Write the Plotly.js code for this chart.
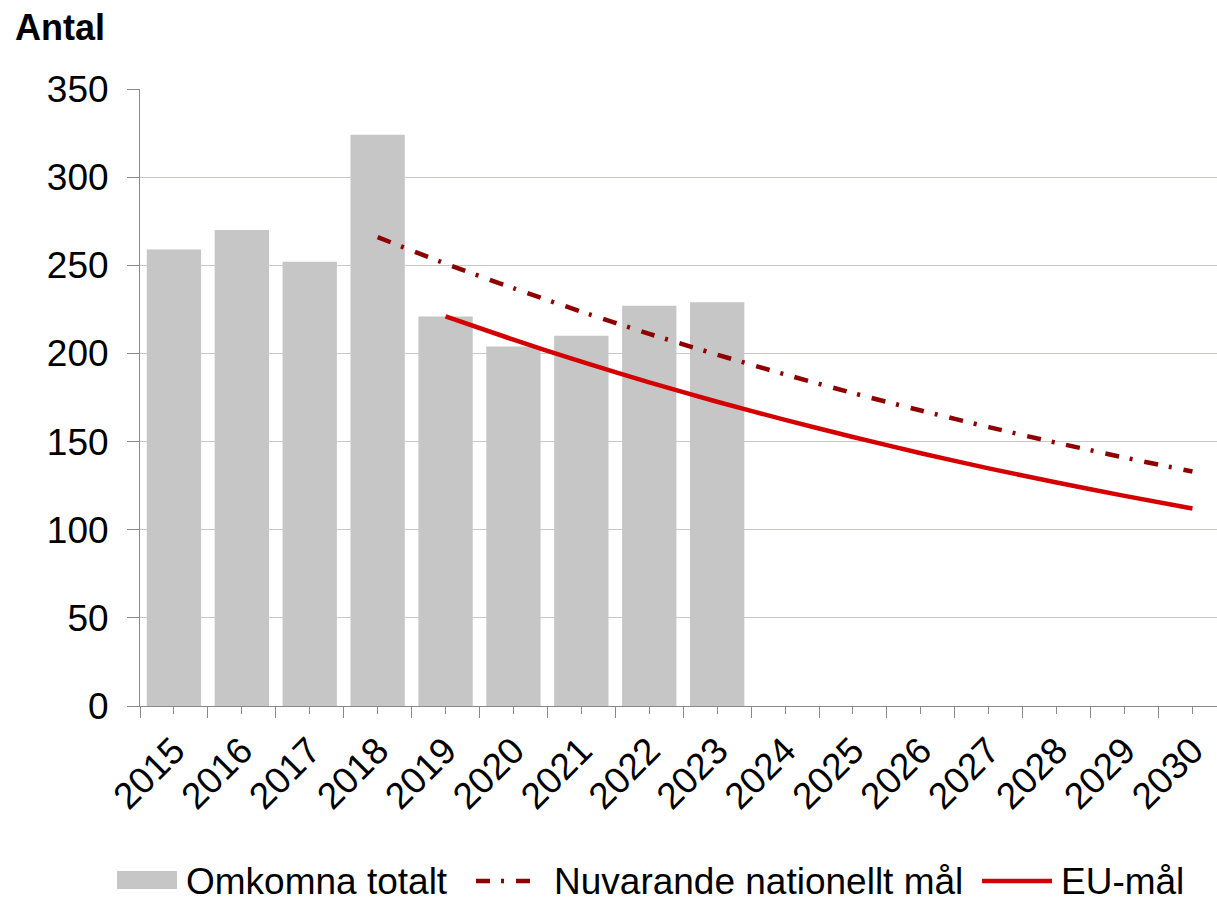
<!DOCTYPE html>
<html>
<head>
<meta charset="utf-8">
<script src="https://cdn.plot.ly/plotly-3.0.1.min.js"></script>
<style>
  html, body { margin: 0; padding: 0; background: #ffffff; }
  #chart { width: 1217px; height: 900px; }
</style>
</head>
<body>
<div id="chart"></div>
<script>
// ---- Data ----
const years = [2015, 2016, 2017, 2018, 2019, 2020, 2021, 2022, 2023, 2024, 2025, 2026, 2027, 2028, 2029, 2030];
const barYears = [2015, 2016, 2017, 2018, 2019, 2020, 2021, 2022, 2023];
const omkomnaTotalt = [259, 270, 252, 324, 221, 204, 210, 227, 229];
const nationalYears = [2018, 2019, 2020, 2021, 2022, 2023, 2024, 2025, 2026, 2027, 2028, 2029, 2030];
const nationelltMal = [266, 250.9, 237.0, 223.7, 211.1, 199.3, 188.1, 177.5, 167.6, 158.2, 149.3, 140.9, 133];
const euYears = [2019, 2020, 2021, 2022, 2023, 2024, 2025, 2026, 2027, 2028, 2029, 2030];
const euMal = [221, 207.8, 195.3, 183.6, 172.6, 162.3, 152.6, 143.4, 134.8, 126.8, 119.2, 112];
const yTicks = [0, 50, 100, 150, 200, 250, 300, 350];
const seriesNames = ["Omkomna totalt", "Nuvarande nationellt mål", "EU-mål"];
const yTitle = "Antal";

// ---- Style ----
const FONT = '"Liberation Sans", Arial, sans-serif';
const BAR_COLOR = '#c6c6c6';
const NAT_COLOR = '#8e0000';
const EU_COLOR = '#d40000';
const DASHDOT = '14px,11px,3px,12px';

const W = 1217, H = 900;
const L = 140, T = 89, B = 194, R = 0;
const plotW = W - L - R, plotH = H - T - B;
// pixel -> paper helpers (for the legend drawn below the plot)
const px = x => (x - L) / plotW;
const py = y => (H - B - y) / plotH;

const traces = [
  {
    type: 'bar', x: barYears, y: omkomnaTotalt, name: seriesNames[0],
    marker: { color: BAR_COLOR }, showlegend: false, hoverinfo: 'x+y'
  },
  {
    type: 'scatter', mode: 'lines', x: nationalYears, y: nationelltMal, name: seriesNames[1],
    line: { color: NAT_COLOR, width: 4.5, dash: DASHDOT, shape: 'spline', smoothing: 0.6 }, showlegend: false
  },
  {
    type: 'scatter', mode: 'lines', x: euYears, y: euMal, name: seriesNames[2],
    line: { color: EU_COLOR, width: 4.5, shape: 'spline', smoothing: 0.6 }, showlegend: false
  }
];

const legY = 881;
const legFont = { family: FONT, size: 37, color: '#000000' };
function legText(x, t) {
  return { xref: 'paper', yref: 'paper', x: px(x), y: py(legY), xanchor: 'left', yanchor: 'middle',
    height: 34, valign: 'middle', borderpad: 0,
    text: t, showarrow: false, font: legFont };
}

const layout = {
  width: W, height: H,
  margin: { l: L, r: R, t: T, b: B, pad: 0 },
  paper_bgcolor: '#ffffff', plot_bgcolor: '#ffffff',
  font: { family: FONT, size: 37, color: '#000000' },
  bargap: 0.2,
  showlegend: false,
  title: {
    text: '<b>' + yTitle + '</b>',
    xref: 'container', yref: 'container',
    x: 15 / W, xanchor: 'left', y: 1 - 27 / H, yanchor: 'middle',
    font: { family: FONT, size: 36, color: '#000000' }
  },
  xaxis: {
    type: 'linear',
    range: [years[0] - 0.5, years[0] - 0.5 + plotW / 67.9],
    tickmode: 'array', tickvals: years, ticktext: years.map(String),
    tickangle: -45,
    ticks: 'outside', ticklen: 7, tickwidth: 1, tickcolor: '#898989',
    minor: { tick0: years[0] - 0.5, dtick: 1, ticks: 'outside', ticklen: 11, tickwidth: 1, tickcolor: '#898989', showgrid: false },
    showline: true, linecolor: '#898989', linewidth: 1,
    showgrid: false, zeroline: false,
    tickfont: { family: FONT, size: 37, color: '#000000' }
  },
  yaxis: {
    range: [0, 350],
    tickmode: 'array', tickvals: yTicks,
    ticks: 'outside', ticklen: 12, tickwidth: 1, tickcolor: '#898989',
    showline: true, linecolor: '#898989', linewidth: 1,
    showgrid: true, gridcolor: '#cbc7c3', gridwidth: 1,
    zeroline: false,
    ticklabelstandoff: 11,
    tickfont: { family: FONT, size: 37, color: '#000000' }
  },
  shapes: [
    { type: 'rect', xref: 'paper', yref: 'paper', x0: px(117), x1: px(177), y0: py(legY + 8), y1: py(legY - 10),
      fillcolor: BAR_COLOR, line: { width: 0 } },
    { type: 'line', xref: 'paper', yref: 'paper', x0: px(476), x1: px(535), y0: py(legY), y1: py(legY),
      line: { color: NAT_COLOR, width: 4.5, dash: DASHDOT } },
    { type: 'line', xref: 'paper', yref: 'paper', x0: px(982), x1: px(1052), y0: py(legY), y1: py(legY),
      line: { color: EU_COLOR, width: 4.5 } }
  ],
  annotations: [
    legText(185, seriesNames[0]),
    legText(553, seriesNames[1]),
    legText(1060, seriesNames[2])
  ]
};

Plotly.newPlot('chart', traces, layout, { staticPlot: true, displayModeBar: false });
</script>
</body>
</html>
